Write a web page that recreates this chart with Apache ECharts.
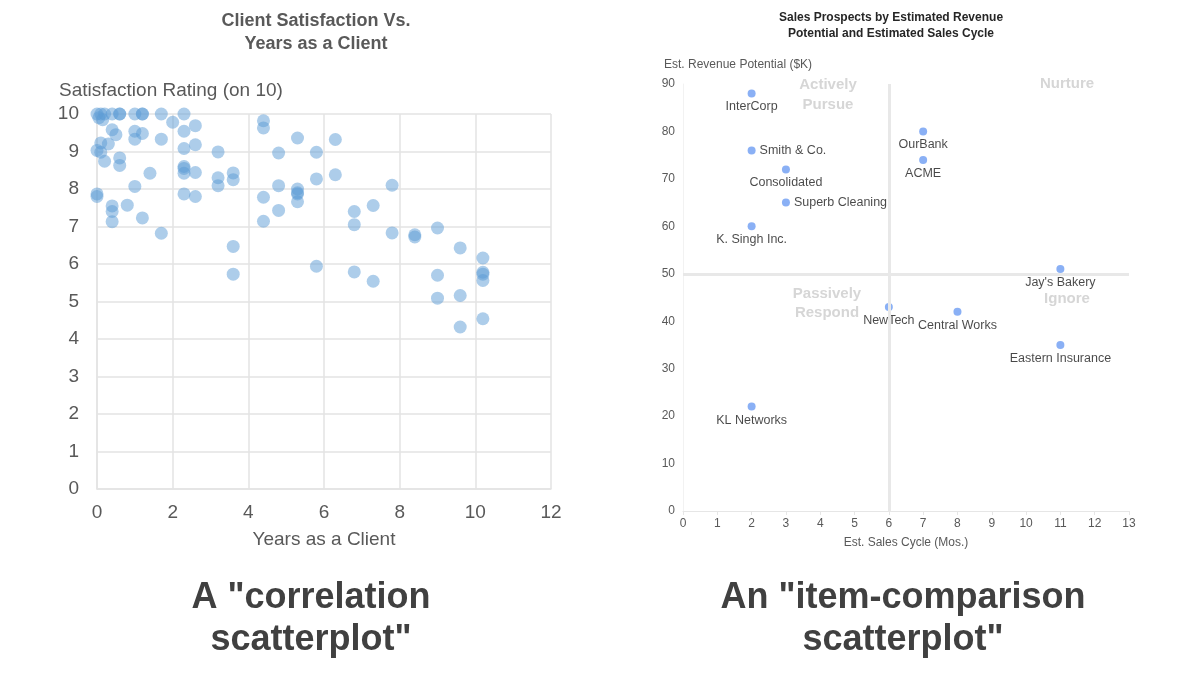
<!DOCTYPE html>
<html>
<head>
<meta charset="utf-8">
<script src="https://cdn.jsdelivr.net/npm/echarts@6/dist/echarts.min.js"></script>
<style>html,body{margin:0;padding:0;background:#fff;}#c{width:1200px;height:675px;}</style>
</head>
<body>
<div id="c"></div>
<script>
// ---- Left chart: Client Satisfaction vs Years as a Client ----
const yearsAsClient = [
  0, 0.1, 0.2, 0.05, 0.15, 0.4, 0.6, 0.6, 1.0, 1.2, 1.2, 1.7, 2.3,
  2.0, 2.6, 2.3, 0.4, 0.5, 1.0, 1.0, 1.2, 1.7,
  0.1, 0, 0.1, 0.3, 0.2, 0.6, 0.6,
  2.3, 2.6, 2.3, 2.3, 2.3, 2.6, 1.4, 1.0,
  0, 0, 0.4, 0.4, 0.4, 0.8, 1.2, 2.3, 2.6, 1.7,
  3.2, 3.2, 3.2, 3.6, 3.6, 3.6, 3.6,
  4.4, 4.4, 5.3, 4.8, 4.4, 4.4, 4.8, 4.8, 5.3, 5.3, 5.3, 5.3,
  6.3, 5.8, 5.8, 6.3, 7.8, 6.8, 6.8, 7.3, 7.8, 8.4, 8.4, 9.0, 9.6,
  10.2, 10.2, 10.2, 10.2, 5.8, 6.8, 7.3, 9.0, 9.0, 9.6, 10.2, 9.6
];
const satisfaction = [
  10, 10, 10, 9.9, 9.85, 10, 10, 10, 10, 10, 10, 10, 10,
  9.78, 9.69, 9.54, 9.58, 9.45, 9.54, 9.33, 9.48, 9.33,
  9.23, 9.03, 8.98, 9.2, 8.74, 8.83, 8.63,
  9.08, 9.18, 8.6, 8.55, 8.42, 8.44, 8.42, 8.07,
  7.87, 7.8, 7.55, 7.4, 7.13, 7.57, 7.23, 7.87, 7.8, 6.82,
  8.99, 8.3, 8.09, 8.43, 8.25, 6.47, 5.73,
  9.82, 9.63, 9.36, 8.96, 7.78, 7.14, 8.09, 7.43, 8.0, 7.9, 7.87, 7.66,
  9.32, 8.98, 8.27, 8.38, 8.1, 7.4, 7.05, 7.56, 6.83, 6.78, 6.72, 6.96, 6.43,
  6.16, 5.78, 5.73, 5.56, 5.94, 5.79, 5.54, 5.7, 5.09, 5.16, 4.54, 4.32
];

// ---- Right chart: Sales prospects ----
const prospectNames = ['InterCorp', 'Smith & Co.', 'Consolidated', 'Superb Cleaning', 'K. Singh Inc.',
  'OurBank', 'ACME', "Jay's Bakery", 'NewTech', 'Central Works', 'Eastern Insurance', 'KL Networks'];
const salesCycle = [2, 2, 3, 3, 2, 7, 7, 11, 6, 8, 11, 2];
const revenuePotential = [88, 76, 72, 65, 60, 80, 74, 51, 43, 42, 35, 22];
const quadrantLabels = ['Actively\nPursue', 'Nurture', 'Passively\nRespond', 'Ignore'];
const cycleDivider = 6;
const revenueDivider = 50;

const FONT = '"Liberation Sans", Arial, sans-serif';
const rightSideLabels = ['Smith & Co.', 'Superb Cleaning'];

const leftData = yearsAsClient.map((x, i) => [x, satisfaction[i]]);
const rightData = prospectNames.map((n, i) => ({
  name: n,
  value: [salesCycle[i], revenuePotential[i]],
  label: rightSideLabels.includes(n) ? { position: 'right', distance: 4 } : { position: 'bottom', distance: 3 }
}));

const chart = echarts.init(document.getElementById('c'));
chart.setOption({
  animation: false,
  textStyle: { fontFamily: FONT },
  grid: [
    { left: 97, top: 114, width: 454, height: 375 },
    { left: 683, top: 84, width: 446, height: 427 }
  ],
  xAxis: [
    {
      gridIndex: 0, type: 'value', min: 0, max: 12, interval: 2,
      name: 'Years as a Client', nameLocation: 'middle', nameGap: 41,
      nameTextStyle: { fontSize: 19, color: '#595959', fontFamily: FONT },
      axisLine: { show: true, lineStyle: { color: '#e3e3e3', width: 1.5 } },
      axisTick: { show: false },
      axisLabel: { fontSize: 19, color: '#595959', margin: 14, fontFamily: FONT },
      splitLine: { show: true, lineStyle: { color: '#e3e3e3', width: 1.5 } }
    },
    {
      gridIndex: 1, type: 'value', min: 0, max: 13, interval: 1,
      name: 'Est. Sales Cycle (Mos.)', nameLocation: 'middle', nameGap: 26,
      nameTextStyle: { fontSize: 12, color: '#595959', fontFamily: FONT },
      axisLine: { show: true, lineStyle: { color: '#e6e6e6', width: 1 } },
      axisTick: { show: true, length: 4, lineStyle: { color: '#e6e6e6' } },
      axisLabel: { fontSize: 12, color: '#595959', margin: 7, fontFamily: FONT },
      splitLine: { show: false }
    }
  ],
  yAxis: [
    {
      gridIndex: 0, type: 'value', min: 0, max: 10, interval: 1,
      name: 'Satisfaction Rating (on 10)', nameLocation: 'end', nameGap: 14,
      nameTextStyle: { fontSize: 19, color: '#595959', align: 'left', padding: [0, 0, 0, -38], fontFamily: FONT },
      axisLine: { show: true, lineStyle: { color: '#e3e3e3', width: 1.5 } },
      axisTick: { show: false },
      axisLabel: { fontSize: 19, color: '#595959', margin: 18, fontFamily: FONT },
      splitLine: { show: true, lineStyle: { color: '#e3e3e3', width: 1.5 } }
    },
    {
      gridIndex: 1, type: 'value', min: 0, max: 90, interval: 10,
      name: 'Est. Revenue Potential ($K)', nameLocation: 'end', nameGap: 13,
      nameTextStyle: { fontSize: 12, color: '#595959', align: 'left', padding: [0, 0, 0, -19], fontFamily: FONT },
      axisLine: { show: true, lineStyle: { color: '#f2f2f2', width: 1 } },
      axisTick: { show: false },
      axisLabel: { fontSize: 12, color: '#595959', margin: 8, fontFamily: FONT },
      splitLine: { show: false }
    }
  ],
  series: [
    {
      type: 'scatter', xAxisIndex: 0, yAxisIndex: 0,
      data: leftData, symbolSize: 13,
      itemStyle: { color: '#5b9bd5', opacity: 0.5 }
    },
    {
      type: 'scatter', xAxisIndex: 1, yAxisIndex: 1,
      data: rightData, symbolSize: 8,
      itemStyle: { color: '#6d9cf2' },
      label: { show: true, formatter: '{b}', fontSize: 12.5, color: '#1a1a1a', fontFamily: FONT },
      markLine: {
        silent: true, symbol: 'none', animation: false,
        label: { show: false },
        lineStyle: { color: '#e8e8e8', width: 3, type: 'solid' },
        data: [{ xAxis: cycleDivider }, { yAxis: revenueDivider }]
      },
      z: 3
    }
  ],
  graphic: [
    { type: 'text', x: 316, y: 33, style: { text: 'Client Satisfaction Vs.\nYears as a Client', textAlign: 'center', textVerticalAlign: 'middle', font: 'bold 18px ' + FONT, fill: '#595959', lineHeight: 23 } },
    { type: 'text', x: 891, y: 26, style: { text: 'Sales Prospects by Estimated Revenue\nPotential and Estimated Sales Cycle', textAlign: 'center', textVerticalAlign: 'middle', font: 'bold 12px ' + FONT, fill: '#262626', lineHeight: 16 } },
    { type: 'text', x: 828, y: 95, z: 1, style: { text: quadrantLabels[0], textAlign: 'center', textVerticalAlign: 'middle', font: 'bold 15px ' + FONT, fill: '#d6d6d6', lineHeight: 20 } },
    { type: 'text', x: 1067, y: 84, z: 1, style: { text: quadrantLabels[1], textAlign: 'center', textVerticalAlign: 'middle', font: 'bold 15px ' + FONT, fill: '#d6d6d6', lineHeight: 20 } },
    { type: 'text', x: 827, y: 303, z: 1, style: { text: quadrantLabels[2], textAlign: 'center', textVerticalAlign: 'middle', font: 'bold 15px ' + FONT, fill: '#d6d6d6', lineHeight: 19 } },
    { type: 'text', x: 1067, y: 299, z: 1, style: { text: quadrantLabels[3], textAlign: 'center', textVerticalAlign: 'middle', font: 'bold 15px ' + FONT, fill: '#d6d6d6', lineHeight: 20 } },
    { type: 'text', x: 311, y: 619, style: { text: 'A "correlation\nscatterplot"', textAlign: 'center', textVerticalAlign: 'middle', font: 'bold 36px ' + FONT, fill: '#404040', lineHeight: 42 } },
    { type: 'text', x: 903, y: 619, style: { text: 'An "item-comparison\nscatterplot"', textAlign: 'center', textVerticalAlign: 'middle', font: 'bold 36px ' + FONT, fill: '#404040', lineHeight: 42 } }
  ]
});
</script>
</body>
</html>
